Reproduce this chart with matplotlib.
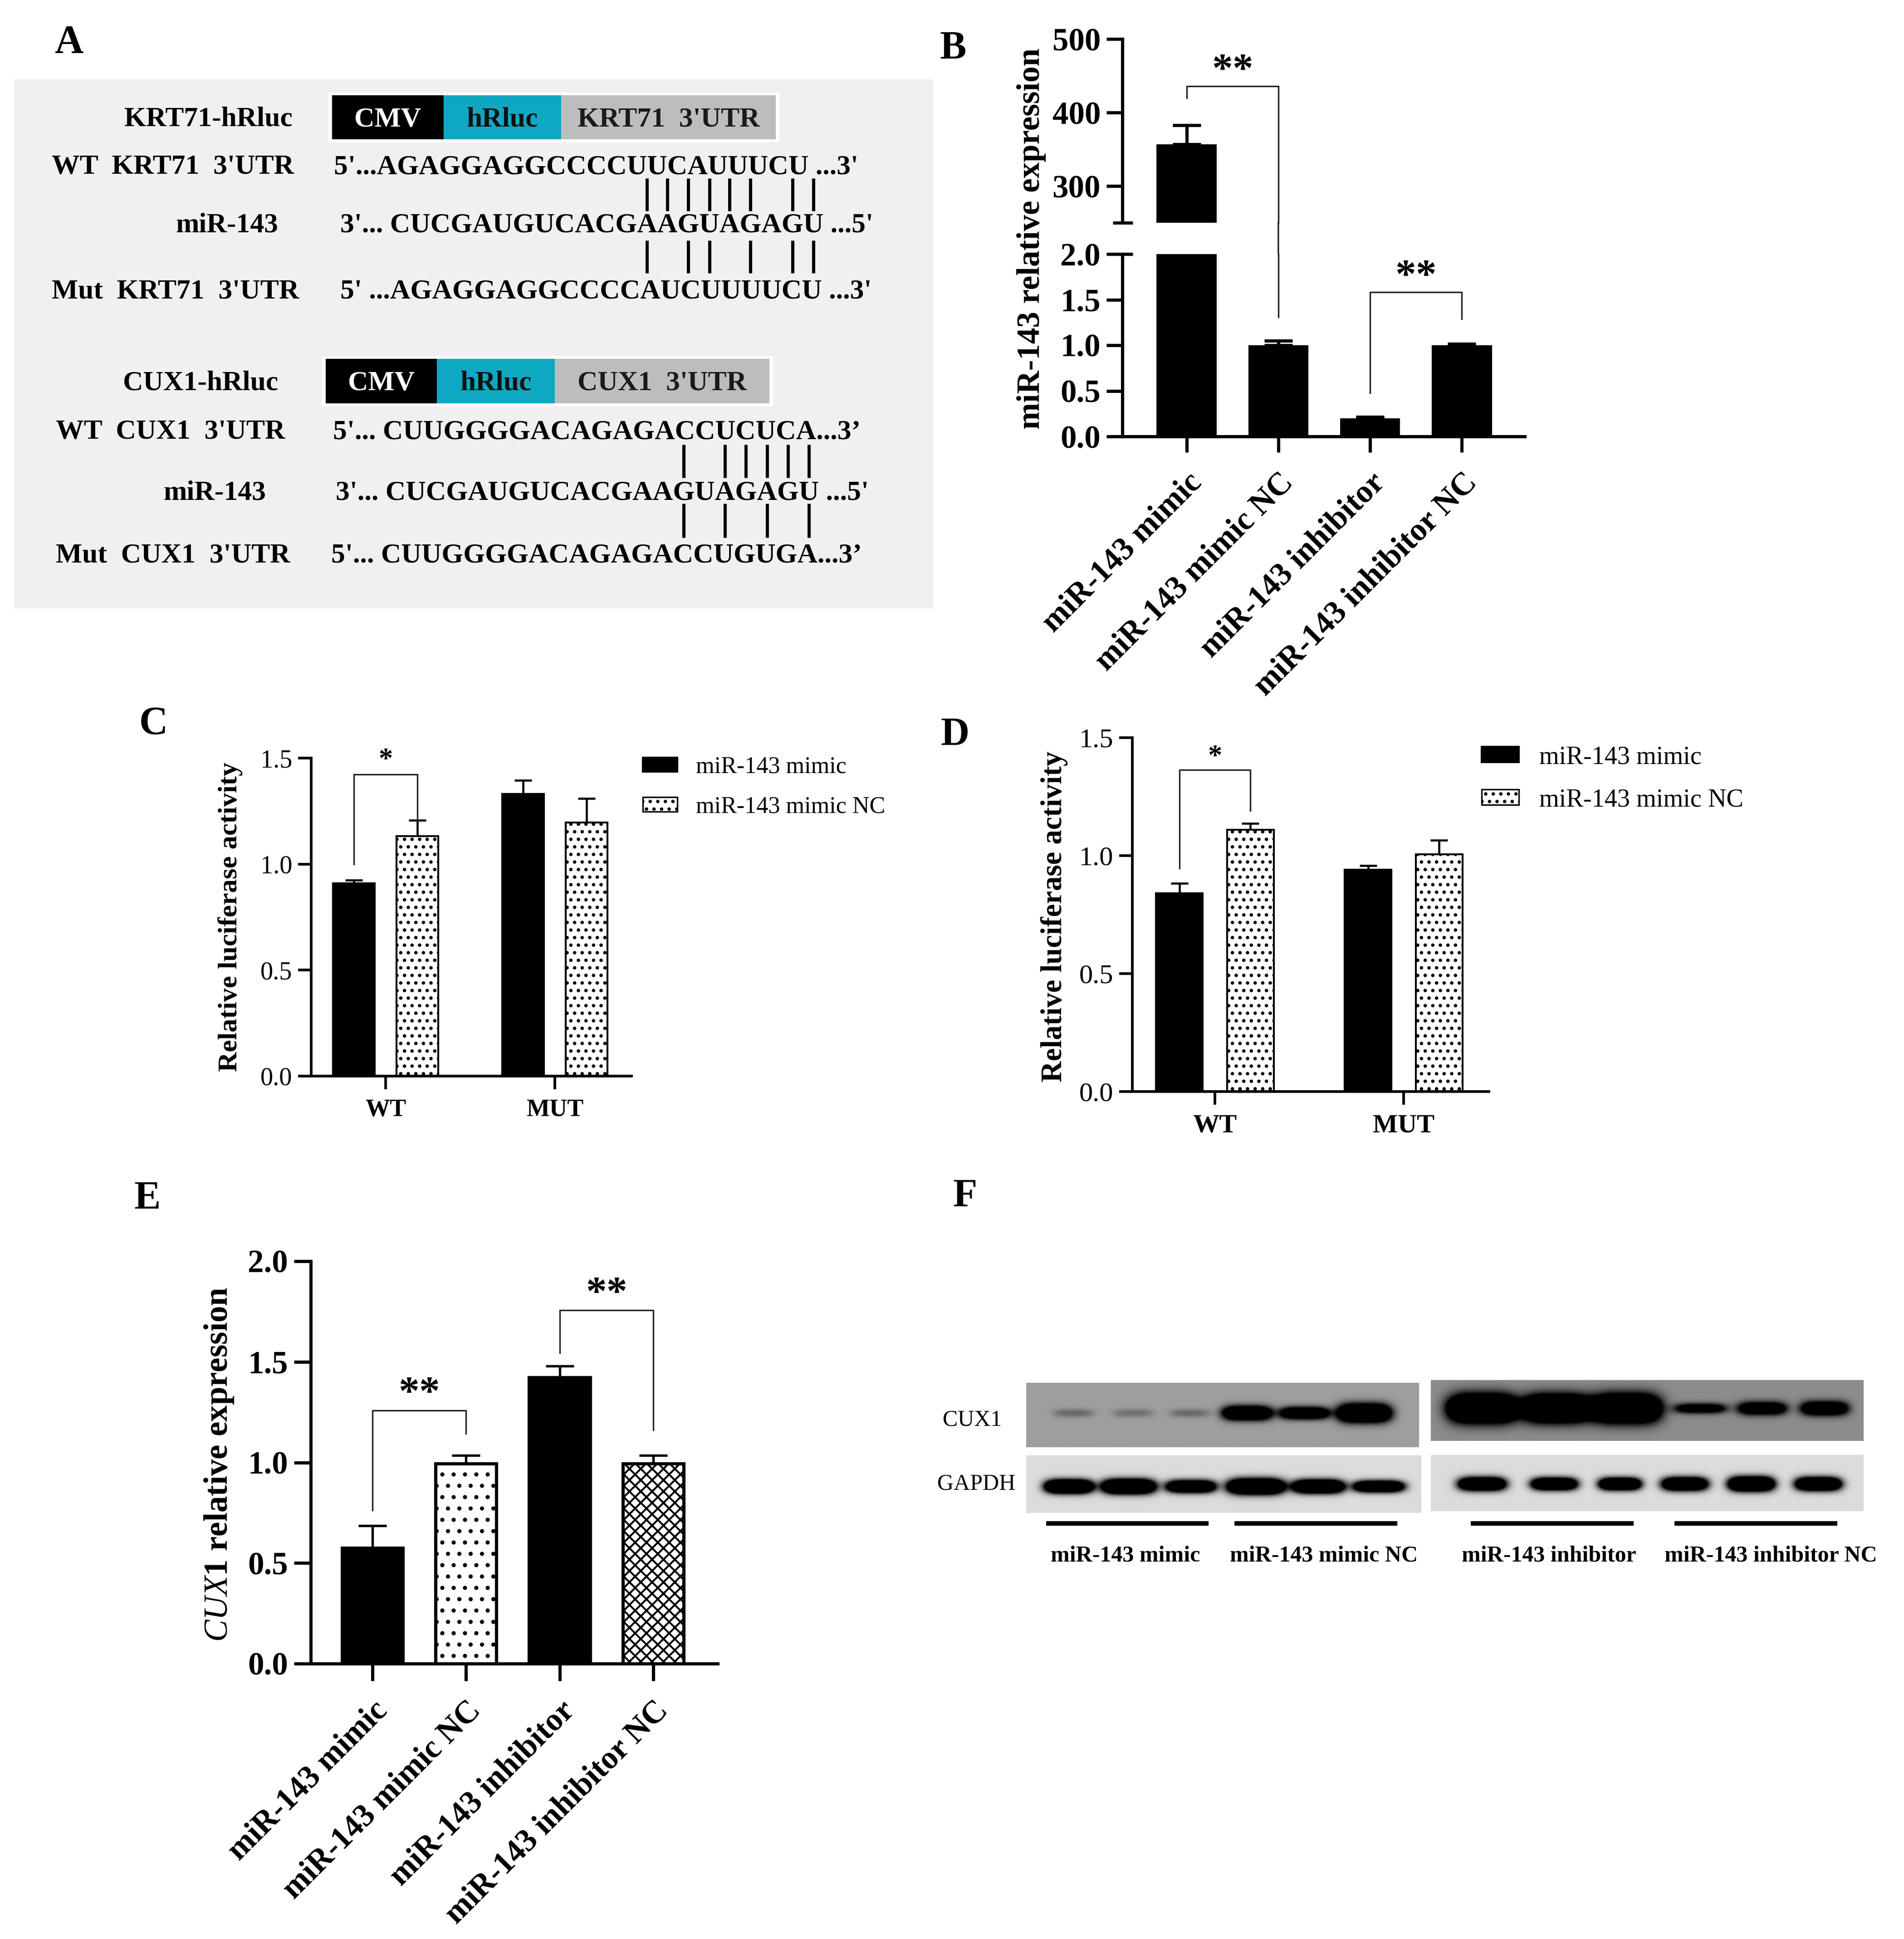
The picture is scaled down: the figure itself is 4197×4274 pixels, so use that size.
import numpy as np
import matplotlib
matplotlib.use("Agg")
import matplotlib.pyplot as plt
from matplotlib.patches import Rectangle, Patch, ConnectionPatch
from matplotlib.font_manager import FontProperties
from matplotlib.ticker import FormatStrFormatter

W, H, DPI = 4197, 4274, 300

plt.rcParams["font.family"] = ["Liberation Serif", "DejaVu Serif"]
plt.rcParams["mathtext.fontset"] = "custom"
plt.rcParams["mathtext.it"] = "Liberation Serif:italic"
plt.rcParams["mathtext.rm"] = "Liberation Serif:bold"
plt.rcParams["hatch.linewidth"] = 1.0

# ---------------- data ----------------
treatments = ["miR-143 mimic", "miR-143 mimic NC", "miR-143 inhibitor", "miR-143 inhibitor NC"]

# B: miR-143 relative expression
mir_mean = [357, 1.00, 0.20, 1.00]
mir_err = [26, 0.05, 0.015, 0.015]

# C / D: dual luciferase (KRT71 and CUX1 reporters)
reporters = ["WT", "MUT"]
luc_series = ["miR-143 mimic", "miR-143 mimic NC"]
krt_mimic = [0.91, 1.33]
krt_mimic_err = [0.015, 0.065]
krt_nc = [1.133, 1.197]
krt_nc_err = [0.074, 0.112]
cux_mimic = [0.84, 0.941]
cux_mimic_err = [0.043, 0.016]
cux_nc = [1.11, 1.006]
cux_nc_err = [0.026, 0.059]

# E: CUX1 relative expression
cux1_mean = [0.575, 0.995, 1.423, 0.995]
cux1_err = [0.11, 0.039, 0.056, 0.039]

# F: western blot band strength per lane (3 lanes per treatment)
cux1_left_bands = [0.35, 0.30, 0.35, 2.5, 2.2, 3.0]
cux1_right_bands = [3.5, 3.5, 3.5, 1.6, 2.0, 2.2]
gapdh_left_bands = [3.0, 3.0, 2.5, 3.0, 2.8, 2.5]
gapdh_right_bands = [2.5, 2.5, 2.5, 2.5, 2.8, 2.6]

# A: target sites
krt_wt = "5'...AGAGGAGGCCCCUUCAUUUCU ...3'"
krt_mut = "5' ...AGAGGAGGCCCCAUCUUUUCU ...3'"
cux_wt = "5'... CUUGGGGACAGAGACCUCUCA...3\u2019"
cux_mut = "5'... CUUGGGGACAGAGACCUGUGA...3\u2019"
mir_prefix = "3'... "
mir_seq = "CUCGAUGUCACGAAGUAGAGU"
mir_suffix = " ...5'"
krt_pairs_wt = [12, 13, 14, 15, 16, 17, 19, 20]
krt_pairs_mut = [12, 14, 15, 17, 19, 20]
cux_pairs_wt = [14, 16, 17, 18, 19, 20]
cux_pairs_mut = [14, 16, 18, 20]

# ---------------- figure ----------------
fig = plt.figure(figsize=(W / DPI, H / DPI), dpi=DPI)
bg = fig.add_axes([0, 0, 1, 1])
bg.set_xlim(0, W)
bg.set_ylim(H, 0)
bg.axis("off")


def add_ax(x0, y0, x1, y1):
    # pixel box (top-left origin) -> figure axes
    return fig.add_axes([x0 / W, 1 - y1 / H, (x1 - x0) / W, (y1 - y0) / H])


def style(ax, lw, tick_len, size, weight):
    for s in ["top", "right"]:
        ax.spines[s].set_visible(False)
    for s in ["left", "bottom"]:
        ax.spines[s].set_linewidth(lw)
    ax.tick_params(direction="out", length=tick_len, width=lw, labelsize=size, pad=3)
    for lab in ax.get_yticklabels():
        lab.set_fontweight(weight)


SIG = dict(color="#222222", lw=0.8, clip_on=False)

# panel letters
for letter, x, y in [("A", 152, 116), ("B", 2101, 129), ("C", 338, 1618),
                     ("D", 2105, 1642), ("E", 325, 2664), ("F", 2127, 2658)]:
    bg.text(x, y, letter, fontsize=21, fontweight="bold", ha="center", va="baseline")

# ---------------- A: constructs & sequences ----------------
bg.add_patch(Rectangle((33, 177), 2022, 1162, color="#f0f0f0", zorder=0))
FA = 14.8
fpA = FontProperties(family="Liberation Serif", weight="bold", size=FA)
renderer = fig.canvas.get_renderer()


def tw(s):
    w, h, d = renderer.get_text_width_height_descent(s, fpA, ismath=False)
    return w


def construct(y0, y1, edges, utr_label):
    bg.add_patch(Rectangle((edges[0] - 6, y0 - 6), edges[-1] - edges[0] + 12, y1 - y0 + 12,
                           color="white", zorder=1))
    fills = ["black", "#0fa8c2", "#bdbdbd"]
    texts = ["CMV", "hRluc", utr_label]
    tcols = ["white", "#111111", "#1a1a1a"]
    for i in range(3):
        bg.add_patch(Rectangle((edges[i] + 2, y0), edges[i + 1] - edges[i] - 4, y1 - y0,
                               color=fills[i], zorder=2))
        bg.text((edges[i] + edges[i + 1]) / 2, (y0 + y1) / 2 + 20, texts[i], color=tcols[i],
                fontproperties=fpA, ha="center", va="baseline", zorder=3)


def pair_lines(x_mir, pairs, ya, yb):
    for i in pairs:
        xc = x_mir + tw(mir_prefix + mir_seq[:i + 1]) - tw(mir_seq[i]) / 2
        bg.plot([xc, xc], [ya, yb], color="black", lw=1.7, solid_capstyle="butt")


construct(212, 305, [732, 978, 1237, 1710], "KRT71  3'UTR")
bg.text(645, 278, "KRT71-hRluc", fontproperties=fpA, ha="right", va="baseline")
bg.text(114, 383, "WT  KRT71  3'UTR", fontproperties=fpA, ha="left", va="baseline")
bg.text(736, 383, krt_wt, fontproperties=fpA, ha="left", va="baseline")
bg.text(613, 512, "miR-143", fontproperties=fpA, ha="right", va="baseline")
bg.text(750, 512, mir_prefix + mir_seq + mir_suffix, fontproperties=fpA, ha="left", va="baseline")
bg.text(114, 657, "Mut  KRT71  3'UTR", fontproperties=fpA, ha="left", va="baseline")
bg.text(750, 657, krt_mut, fontproperties=fpA, ha="left", va="baseline")
pair_lines(750, krt_pairs_wt, 393, 465)
pair_lines(750, krt_pairs_mut, 530, 602)

construct(793, 887, [718, 963, 1223, 1696], "CUX1  3'UTR")
bg.text(613, 860, "CUX1-hRluc", fontproperties=fpA, ha="right", va="baseline")
bg.text(123, 967, "WT  CUX1  3'UTR", fontproperties=fpA, ha="left", va="baseline")
bg.text(734, 967, cux_wt, fontproperties=fpA, ha="left", va="baseline")
bg.text(586, 1102, "miR-143", fontproperties=fpA, ha="right", va="baseline")
bg.text(740, 1102, mir_prefix + mir_seq + mir_suffix, fontproperties=fpA, ha="left", va="baseline")
bg.text(123, 1240, "Mut  CUX1  3'UTR", fontproperties=fpA, ha="left", va="baseline")
bg.text(730, 1240, cux_mut, fontproperties=fpA, ha="left", va="baseline")
pair_lines(740, cux_pairs_wt, 980, 1053)
pair_lines(740, cux_pairs_mut, 1110, 1185)

# ---------------- B: broken-axis bar chart ----------------
axBt = add_ax(2474, 86, 3361, 491)
axBb = add_ax(2474, 560, 3361, 962)
x4 = np.arange(len(treatments))
for ax in (axBt, axBb):
    ax.bar(x4, mir_mean, width=0.655, color="black", zorder=2)
    ax.errorbar(x4, mir_mean, yerr=[np.zeros(4), mir_err], fmt="none", ecolor="black",
                elinewidth=1.7, capsize=7.5, capthick=1.7, zorder=1)
    ax.set_xlim(-0.70, 3.685)
axBt.set_ylim(250, 500)
axBt.set_yticks([300, 400, 500])
axBt.set_xticks([])
axBt.spines["bottom"].set_visible(False)
style(axBt, 1.7, 8.5, 17, "bold")
axBb.set_ylim(0, 2.0)
axBb.set_yticks([0, 0.5, 1.0, 1.5, 2.0])
axBb.yaxis.set_major_formatter(FormatStrFormatter("%.1f"))
axBb.set_xticks(x4)
axBb.set_xticklabels(treatments, rotation=45, ha="right", va="top", rotation_mode="anchor",
                     fontweight="bold")
style(axBb, 1.7, 8.5, 17, "bold")
axBb.tick_params(axis="x", pad=8)
# break caps
for ax, yv in ((axBt, 250), (axBb, 2.0)):
    ax.plot([-0.024, 0.026], [yv, yv], transform=ax.get_yaxis_transform(), color="black",
            lw=1.7, clip_on=False, solid_capstyle="butt")
bg.text(2273, 526, "miR-143 relative expression", rotation=90, fontsize=17,
        fontweight="bold", ha="center", va="center")
axBt.plot([0, 0, 1, 1], [420, 436, 436, 250], **SIG)
fig.add_artist(ConnectionPatch(xyA=(1, 250), coordsA=axBt.transData, xyB=(1, 2.0),
                               coordsB=axBb.transData, color="#222222", lw=0.8))
axBb.plot([1, 1], [2.0, 1.31], **SIG)
axBt.text(0.5, 442, "**", ha="center", va="baseline", fontsize=22, fontweight="bold")
axBb.plot([2, 2, 3, 3], [0.48, 1.58, 1.58, 1.29], **SIG)
axBb.text(2.5, 1.63, "**", ha="center", va="baseline", fontsize=22, fontweight="bold")

# ---------------- C / D: luciferase ----------------
def luciferase(box, mimic, mimic_err, nc, nc_err, xlim, sig, leg, fs):
    ax = add_ax(*box)
    xg = np.arange(len(reporters))
    off, bw = 0.188, 0.247
    ax.bar(xg - off, mimic, bw, color="black", edgecolor="black", lw=1.0, zorder=2)
    ax.bar(xg + off, nc, bw, color="white", edgecolor="black", lw=1.0, hatch="...", zorder=2)
    ax.errorbar(xg - off, mimic, yerr=[np.zeros(2), mimic_err], fmt="none", ecolor="black",
                elinewidth=1.1, capsize=4.5, capthick=1.1, zorder=1)
    ax.errorbar(xg + off, nc, yerr=[np.zeros(2), nc_err], fmt="none", ecolor="black",
                elinewidth=1.1, capsize=4.5, capthick=1.1, zorder=1)
    ax.set_xlim(*xlim)
    ax.set_ylim(0, 1.5)
    ax.set_yticks([0, 0.5, 1.0, 1.5])
    ax.yaxis.set_major_formatter(FormatStrFormatter("%.1f"))
    ax.set_xticks(xg)
    ax.set_xticklabels(reporters, fontweight="bold", fontsize=fs)
    style(ax, 1.4, 7, fs + 0.5, "normal")
    ax.tick_params(axis="x", labelsize=fs, pad=5)
    y1, ytop, y2, ystar = sig
    ax.plot([-off, -off, off, off], [y1, ytop, ytop, y2], **SIG)
    ax.text(0, ystar, "*", ha="center", va="baseline", fontsize=15, fontweight="bold")
    handles = [Patch(facecolor="black", edgecolor="black"),
               Patch(facecolor="white", edgecolor="black", hatch="...", lw=0.8)]
    ax.legend(handles, luc_series, loc="upper left", bbox_to_anchor=(leg[0] / W, 1 - leg[1] / H),
              bbox_transform=fig.transFigure, frameon=False, fontsize=fs - 0.5,
              handlelength=1.45, handleheight=0.56, handletextpad=0.8, labelspacing=0.75,
              borderpad=0, borderaxespad=0)
    return ax


luciferase((686, 1671, 1392, 2372), krt_mimic, krt_mimic_err, krt_nc, krt_nc_err,
           (-0.44, 1.453), (1.0, 1.422, 1.21, 1.455), (1417, 1667), 13.0)
bg.text(508, 2021, "Relative luciferase activity", rotation=90, fontsize=14.5,
        fontweight="bold", ha="center", va="center")
luciferase((2496, 1626, 3282, 2406), cux_mimic, cux_mimic_err, cux_nc, cux_nc_err,
           (-0.4375, 1.452), (0.947, 1.364, 1.19, 1.387), (3266, 1643), 14.0)
bg.text(2324, 2020, "Relative luciferase activity", rotation=90, fontsize=15.5,
        fontweight="bold", ha="center", va="center")

# ---------------- E: CUX1 qPCR ----------------
axE = add_ax(685, 2780, 1582, 3667)
fills = ["black", "white", "black", "white"]
hatches = [None, "..", None, "xxxx"]
for i in range(4):
    axE.bar(x4[i], cux1_mean[i], width=0.65, color=fills[i], edgecolor="black", lw=1.7,
            hatch=hatches[i], zorder=2)
axE.errorbar(x4, cux1_mean, yerr=[np.zeros(4), cux1_err], fmt="none", ecolor="black",
             elinewidth=1.3, capsize=7.5, capthick=1.3, zorder=1)
axE.set_xlim(-0.66, 3.69)
axE.set_ylim(0, 2.0)
axE.set_yticks([0, 0.5, 1.0, 1.5, 2.0])
axE.yaxis.set_major_formatter(FormatStrFormatter("%.1f"))
axE.set_xticks(x4)
axE.set_xticklabels(treatments, rotation=45, ha="right", va="top", rotation_mode="anchor",
                    fontweight="bold")
style(axE, 1.7, 9, 17, "bold")
axE.tick_params(axis="x", pad=8)
axE.plot([0, 0, 1, 1], [0.763, 1.259, 1.259, 1.144], **SIG)
axE.text(0.5, 1.287, "**", ha="center", va="baseline", fontsize=22, fontweight="bold")
axE.plot([2, 2, 3, 3], [1.545, 1.756, 1.756, 1.161], **SIG)
axE.text(2.5, 1.783, "**", ha="center", va="baseline", fontsize=22, fontweight="bold")
bg.text(483, 3228, r"$\mathit{CUX1}$ relative expression", rotation=90, fontsize=17.5,
        fontweight="bold", ha="center", va="center")

# ---------------- F: western blot ----------------
def blot(box, strengths, lane_x, half_w, half_h, yc, level):
    ax = add_ax(*box)
    bw_px = box[2] - box[0]
    bh_px = box[3] - box[1]
    xs = np.linspace(0, 1, 700)
    ys = np.linspace(0, 1, 160)
    X, Y = np.meshgrid(xs, ys)
    dark = np.zeros_like(X)
    for s, cx, hw, hh in zip(strengths, lane_x, half_w, half_h):
        dark += s * np.exp(-(np.abs(X - cx) / (hw / bw_px)) ** 4 - ((Y - yc) / (hh / bh_px)) ** 2)
    img = level * (1 - np.clip(dark, 0, 1))
    ax.imshow(img, cmap="gray", vmin=0, vmax=1, extent=(0, 1, 1, 0), aspect="auto",
              interpolation="bilinear")
    ax.axis("off")
    return ax


blot((2262, 3048, 3128, 3190), cux1_left_bands, [0.12, 0.272, 0.417, 0.563, 0.709, 0.861],
     [44, 44, 44, 54, 55, 58], [9, 9, 9, 15, 13, 19], 0.47, 0.62)
blot((3154, 3042, 4108, 3176), cux1_right_bands, [0.12, 0.29, 0.45, 0.623, 0.766, 0.91],
     [76, 74, 76, 58, 54, 52], [29, 28, 29, 11, 14, 15], 0.47, 0.55)
blot((2262, 3208, 3133, 3335), gapdh_left_bands, [0.108, 0.259, 0.417, 0.582, 0.74, 0.893],
     [52, 58, 54, 62, 56, 55], [14, 15, 13, 16, 14, 12], 0.54, 0.86)
blot((3154, 3207, 4108, 3331), gapdh_right_bands, [0.118, 0.285, 0.437, 0.587, 0.741, 0.896],
     [52, 50, 46, 50, 50, 50], [14, 13, 13, 14, 15, 14], 0.52, 0.86)
bg.text(2143, 3130, "CUX1", fontsize=12, ha="center", va="center")
bg.text(2152, 3271, "GAPDH", fontsize=12, ha="center", va="center")
for (xa, xb), xc, lab in zip([(2306, 2664), (2721, 3080), (3242, 3601), (3691, 4050)],
                             [2481, 2918, 3414, 3903], treatments):
    bg.plot([xa, xb], [3358, 3358], color="black", lw=2.4, solid_capstyle="butt")
    bg.text(xc, 3441, lab, fontsize=12, fontweight="bold", ha="center", va="baseline")

fig.savefig("out.png", dpi=DPI)
